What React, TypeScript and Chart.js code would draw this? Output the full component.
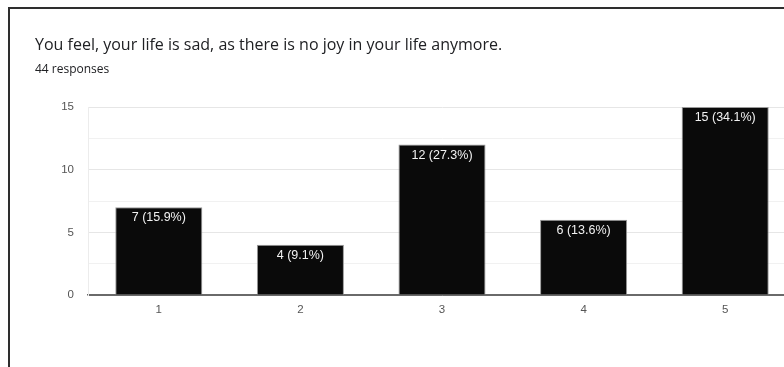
import React, { useEffect, useRef } from "react";
import { Chart, registerables } from "chart.js";

Chart.register(...registerables);

const TITLE = "You feel, your life is sad, as there is no joy in your life anymore.";
const SUBTITLE = "44 responses";
const CATEGORIES = ["1", "2", "3", "4", "5"];
const COUNTS = [7, 4, 12, 6, 15];
const Y_MAX = 15;
const Y_STEP = 2.5;

const TOTAL = COUNTS.reduce((a, b) => a + b, 0);

const barLabelPlugin = {
  id: "barLabels",
  afterDatasetsDraw(chart: any) {
    const { ctx } = chart;
    const meta = chart.getDatasetMeta(0);
    ctx.save();
    ctx.fillStyle = "#f2f2f2";
    ctx.font = "12.5px Arial, 'Liberation Sans', sans-serif";
    ctx.textAlign = "center";
    ctx.textBaseline = "middle";
    meta.data.forEach((bar: any, i: number) => {
      const v = COUNTS[i];
      const pct = ((v / TOTAL) * 100).toFixed(1);
      ctx.fillText(`${v} (${pct}%)`, bar.x, bar.y + 10.5);
    });
    ctx.restore();
  },
};

export default function App() {
  const canvasRef = useRef<HTMLCanvasElement>(null);

  useEffect(() => {
    if (!canvasRef.current) return;
    const chart = new Chart(canvasRef.current, {
      type: "bar",
      data: {
        labels: CATEGORIES,
        datasets: [
          {
            data: COUNTS,
            backgroundColor: "#0a0a0a",
            borderColor: "#9a9a9a",
            borderWidth: 1,
            barPercentage: 0.615,
            categoryPercentage: 1,
          },
        ],
      },
      options: {
        animation: false,
        responsive: false,
        maintainAspectRatio: false,
        layout: { padding: { top: 107, left: 0, right: 4, bottom: 0 } },
        plugins: {
          legend: { display: false },
          tooltip: { enabled: false },
          title: { display: false },
        },
        scales: {
          x: {
            grid: { display: false, drawTicks: false },
            border: { display: true, color: "#6a6a6a", width: 1.5 },
            ticks: {
              padding: 8,
              color: "#555",
              font: { family: "Arial, 'Liberation Sans', sans-serif", size: 11.5 },
            },
            afterFit(scale: any) {
              scale.height = 72;
            },
          },
          y: {
            min: 0,
            max: Y_MAX,
            grid: {
              drawTicks: false,
              color: (c: any) =>
                c.tick && c.tick.value === 0
                  ? "#6a6a6a"
                  : Number.isInteger(c.tick?.value) ? "#e6e6e6" : "#f1f1f1",
            },
            border: { display: true, color: "#ececec" },
            ticks: {
              stepSize: Y_STEP,
              padding: 14,
              color: "#555",
              font: { family: "Arial, 'Liberation Sans', sans-serif", size: 11.5 },
              callback: (v: any) => (Number.isInteger(v) ? String(v) : ""),
            },
            afterFit(scale: any) {
              scale.width = 88;
            },
          },
        },
      },
      plugins: [barLabelPlugin],
    });
    return () => chart.destroy();
  }, []);

  return (
    <div
      style={{
        position: "absolute",
        left: 0,
        top: 0,
        width: 784,
        height: 367,
        overflow: "hidden",
        background: "#fff",
      }}
    >
      <div
        style={{
          position: "absolute",
          left: 8,
          top: 7,
          width: 900,
          height: 500,
          borderTop: "2px solid #2e2e2e",
          borderLeft: "2px solid #2e2e2e",
        }}
      />
      <canvas
        ref={canvasRef}
        width={800}
        height={367}
        style={{ position: "absolute", left: 0, top: 0, width: 800, height: 367 }}
      />
      <div
        style={{
          position: "absolute",
          left: 35,
          top: 36,
          fontFamily: "'Open Sans', Roboto, sans-serif",
          fontSize: 16,
          lineHeight: "16px",
          color: "#202124",
          whiteSpace: "nowrap",
        }}
      >
        {TITLE}
      </div>
      <div
        style={{
          position: "absolute",
          left: 35,
          top: 63,
          fontFamily: "'Open Sans', Roboto, sans-serif",
          fontSize: 12,
          lineHeight: "12px",
          color: "#202124",
          whiteSpace: "nowrap",
        }}
      >
        {SUBTITLE}
      </div>
    </div>
  );
}
